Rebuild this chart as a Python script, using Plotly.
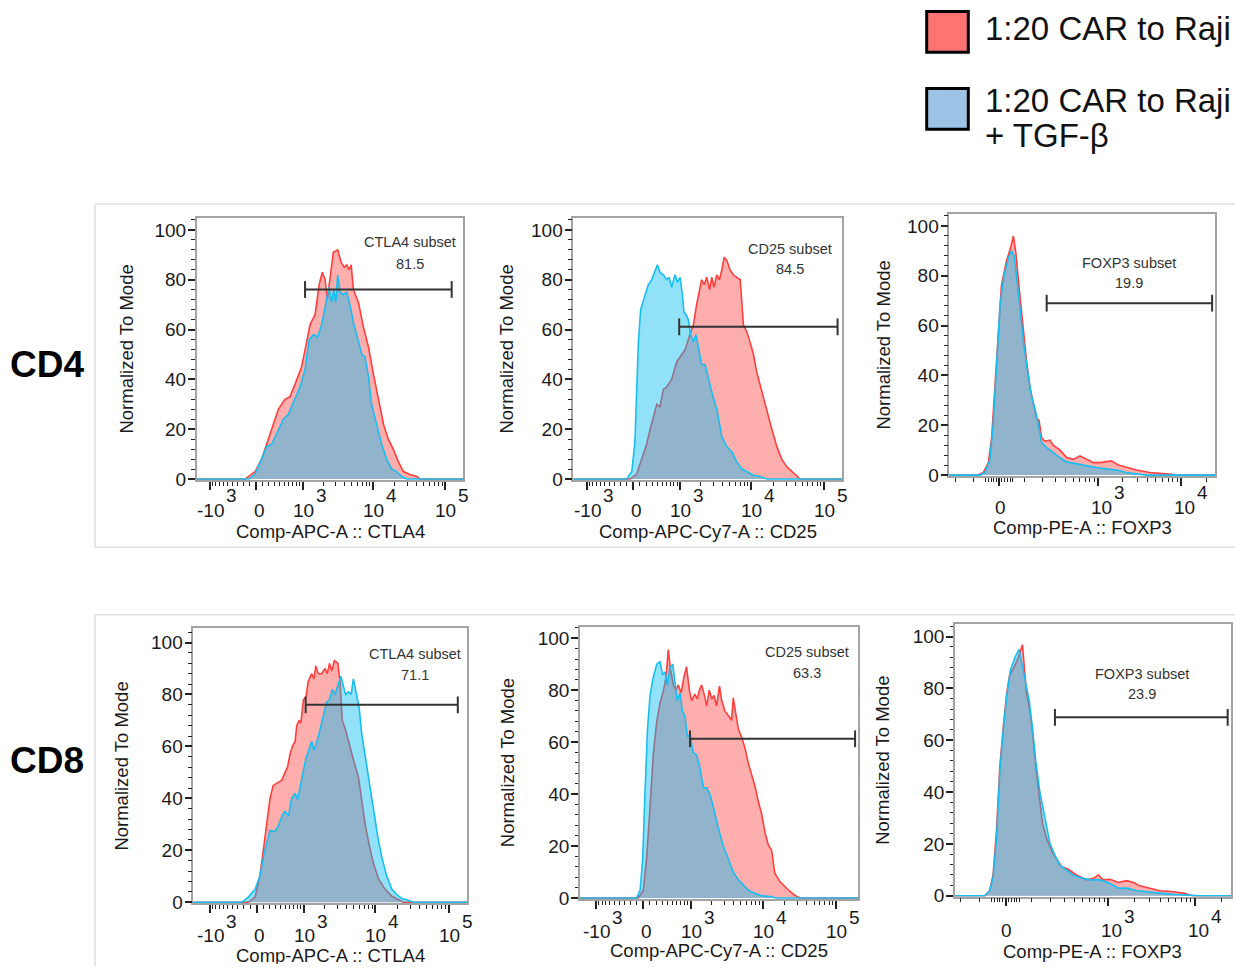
import numpy as np
import plotly.graph_objects as go

W, H = 1235, 976
FONT = "Liberation Sans, Arial, Helvetica, sans-serif"

# ---------------------------------------------------------------------------
# Histogram data.  x = arcsinh-scaled fluorescence (asinh(value / cofactor)),
# y = cell count normalized to mode (%).
# "car"  = 1:20 CAR to Raji,  "tgfb" = 1:20 CAR to Raji + TGF-beta
# ---------------------------------------------------------------------------

# CD4 / CTLA4
cd4_ctla4_car_x = [-2.0, -0.35, -0.03, 0.18, 0.39, 0.50, 0.71, 0.92, 1.08, 1.24, 1.45, 1.61, 1.72, 1.88,
                   2.01, 2.11, 2.20, 2.27, 2.36, 2.46, 2.60, 2.71, 2.81, 2.89, 2.96, 3.03, 3.10, 3.26,
                   3.42, 3.58, 3.74, 3.90, 4.06, 4.21, 4.37, 4.53, 4.69, 4.90, 5.12, 5.22, 6.8]
cd4_ctla4_car_y = [0, 0, 3, 8, 16, 20, 28, 32, 33, 38, 45, 55, 62, 66,
                   78, 83, 80, 72, 81, 91, 92, 87, 85, 86, 84, 86, 76, 71,
                   61, 53, 42, 32, 22, 16, 12, 7, 3, 1.8, 1, 0, 0]
cd4_ctla4_tgfb_x = [-2.0, -0.24, -0.03, 0.18, 0.34, 0.50, 0.66, 0.87, 1.03, 1.24, 1.40, 1.56, 1.69, 1.83,
                    1.96, 2.09, 2.20, 2.32, 2.41, 2.47, 2.54, 2.60, 2.68, 2.78, 2.89, 2.99, 3.10, 3.26,
                    3.37, 3.47, 3.58, 3.68, 3.84, 4.00, 4.16, 4.32, 4.48, 4.64, 4.80, 6.8]
cd4_ctla4_tgfb_y = [0, 0, 2, 8, 13, 14, 18.5, 24, 26, 32, 37, 44, 56, 58,
                    57, 62, 69, 77, 71, 76, 71, 82, 75, 74, 75, 70, 63, 55,
                    50, 49, 41, 30, 22, 14, 8, 4, 3, 1, 0, 0]

# CD4 / CD25
cd4_cd25_car_x = [-2.0, -0.105, 0.105, 0.26, 0.42, 0.53, 0.63, 0.74, 0.84, 0.95, 1.05, 1.21, 1.37, 1.53,
                  1.64, 1.79, 1.90, 2.00, 2.09, 2.16, 2.24, 2.32, 2.41, 2.48, 2.55, 2.64, 2.72, 2.80,
                  2.87, 2.95, 3.06, 3.16, 3.27, 3.38, 3.48, 3.59, 3.69, 3.80, 3.90, 4.06, 4.22, 4.38,
                  4.54, 4.69, 4.85, 5.01, 5.17, 5.27, 6.8]
cd4_cd25_car_y = [0, 0, 2, 8, 14, 20, 25, 30, 29, 36, 37, 40, 47, 50,
                  52, 58, 62, 70, 76, 80, 78, 81, 76, 81, 77, 82, 80, 84,
                  89, 88, 84, 82, 81, 80, 62, 59, 55, 50, 43, 35, 28, 20,
                  13, 8, 5, 3, 1, 0, 0]
cd4_cd25_tgfb_x = [-2.0, -0.21, -0.05, 0.05, 0.105, 0.16, 0.23, 0.34, 0.47, 0.58, 0.69, 0.76, 0.84, 0.95,
                   1.05, 1.13, 1.21, 1.32, 1.39, 1.48, 1.55, 1.60, 1.67, 1.74, 1.81, 1.90, 1.98, 2.06,
                   2.16, 2.27, 2.34, 2.48, 2.64, 2.80, 2.95, 3.11, 3.27, 3.43, 3.59, 3.80, 4.01, 4.22, 6.8]
cd4_cd25_tgfb_y = [0, 0, 3, 15, 36, 55, 68, 73, 78, 80, 84, 86, 83, 82,
                   80, 81, 77, 82, 79, 81, 74, 67, 66, 64, 58, 55, 58, 52,
                   46, 46, 42, 35, 28, 17, 13, 11, 7, 4, 3, 1.5, 1, 0, 0]

# CD4 / FOXP3
cd4_foxp3_car_x = [-1.5, -0.58, -0.44, -0.30, -0.21, -0.12, -0.03, 0.06, 0.20, 0.31, 0.39, 0.46, 0.55,
                   0.64, 0.76, 0.85, 0.96, 1.03, 1.10, 1.17, 1.26, 1.40, 1.49, 1.68, 1.86, 2.04, 2.23,
                   2.37, 2.60, 2.78, 2.96, 3.10, 3.29, 3.52, 3.79, 4.16, 4.44, 4.76, 4.85, 6.1]
cd4_foxp3_car_y = [0, 0, 1, 5, 15, 35, 58, 76, 86, 91, 96, 89, 75,
                   61, 45, 35, 28, 23, 22, 15, 13.6, 14, 12, 10, 7, 6.3, 7.7,
                   6.6, 5, 5, 5.3, 5.7, 4, 3, 2, 1, 0.8, 0.3, 0, 0]
cd4_foxp3_tgfb_x = [-1.5, -0.53, -0.40, -0.26, -0.17, -0.07, 0.02, 0.13, 0.25, 0.34, 0.41, 0.50, 0.59,
                    0.68, 0.78, 0.89, 1.03, 1.17, 1.31, 1.49, 1.68, 1.86, 2.14, 2.41, 2.69, 2.96, 3.24,
                    3.52, 3.79, 4.07, 6.1]
cd4_foxp3_tgfb_y = [0, 0, 1, 6, 20, 45, 68, 80, 87, 90, 88, 77, 64,
                    52, 42, 32, 24, 13, 11, 9, 7, 5.3, 4.5, 4, 3, 2.5, 2,
                    1, 0.5, 0, 0]

# CD8 / CTLA4
cd8_ctla4_car_x = [-2.1, -0.26, -0.05, 0.10, 0.21, 0.31, 0.42, 0.52, 0.66, 0.79, 0.89, 0.97, 1.05, 1.12,
                   1.21, 1.26, 1.33, 1.39, 1.47, 1.55, 1.62, 1.73, 1.80, 1.86, 1.94, 2.04, 2.15, 2.22,
                   2.29, 2.36, 2.44, 2.55, 2.62, 2.69, 2.78, 2.88, 3.04, 3.20, 3.30, 3.41, 3.53, 3.67,
                   3.83, 4.04, 4.25, 4.45, 4.61, 6.8]
cd8_ctla4_car_y = [0, 0, 2, 10, 20, 30, 40, 45, 46, 47, 50, 52, 57, 60,
                   62, 68, 70, 69, 78, 79, 85, 88, 86, 91, 88, 88, 90, 88,
                   92, 89, 93, 92, 85, 70, 67, 62, 55, 48, 40, 30, 22.5, 15,
                   9, 5, 2.3, 1, 0, 0]
cd8_ctla4_tgfb_x = [-2.1, -0.47, -0.26, -0.05, 0.10, 0.26, 0.42, 0.58, 0.70, 0.81, 0.89, 1.00, 1.10, 1.21,
                    1.29, 1.42, 1.54, 1.65, 1.73, 1.80, 1.92, 2.02, 2.11, 2.20, 2.29, 2.38, 2.46, 2.57,
                    2.65, 2.73, 2.80, 2.88, 2.97, 3.04, 3.11, 3.22, 3.30, 3.43, 3.56, 3.67, 3.81, 3.93,
                    4.09, 4.25, 4.40, 4.56, 4.72, 4.93, 6.8]
cd8_ctla4_tgfb_y = [0, 0, 2, 5, 10, 20, 27.6, 27.3, 30, 33.7, 35, 33.3, 40, 42,
                    39.6, 48, 55, 59, 62, 58.5, 63, 68, 72, 77, 78, 82, 80, 84,
                    87, 83, 80, 81, 80, 86, 82, 75, 65, 55, 45, 35, 25, 17.5,
                    10, 5, 3, 1.5, 1, 0, 0]

# CD8 / CD25
cd8_cd25_car_x = [-2.1, -0.16, 0.00, 0.10, 0.21, 0.31, 0.42, 0.52, 0.63, 0.71, 0.78, 0.85, 0.94, 1.02,
                  1.09, 1.18, 1.27, 1.35, 1.44, 1.51, 1.61, 1.69, 1.75, 1.82, 1.90, 1.98, 2.06, 2.14,
                  2.21, 2.29, 2.38, 2.45, 2.55, 2.66, 2.76, 2.81, 2.90, 2.97, 3.07, 3.18, 3.28, 3.39,
                  3.49, 3.59, 3.70, 3.80, 3.91, 4.01, 4.11, 4.27, 4.43, 4.58, 4.74, 4.90, 6.9]
cd8_cd25_car_y = [0, 0, 3, 15, 35, 55, 68, 75, 80, 85, 95.6, 88, 82, 80,
                  82, 79, 85, 89, 80, 76, 78.5, 76.6, 80, 82, 78.5, 74, 80, 76.6,
                  78, 74, 81.6, 76, 72, 70, 68.4, 77, 70, 65, 62, 57.6, 52, 47.5,
                  43, 37.3, 32.3, 25.3, 20.3, 18.4, 9.5, 6.3, 4.2, 2.5, 1, 0, 0]
cd8_cd25_tgfb_x = [-2.1, -0.21, -0.10, -0.02, 0.05, 0.13, 0.21, 0.31, 0.42, 0.52, 0.60, 0.68, 0.75, 0.83,
                   0.92, 0.99, 1.06, 1.15, 1.22, 1.30, 1.38, 1.46, 1.56, 1.67, 1.77, 1.88, 1.98, 2.08,
                   2.19, 2.34, 2.50, 2.66, 2.81, 2.97, 3.13, 3.28, 3.44, 3.65, 3.96, 4.17, 6.9]
cd8_cd25_tgfb_y = [0, 0, 3, 15, 40, 65, 78, 85, 90, 91, 86, 87, 82, 88.6,
                   90, 84, 76, 79, 72, 70, 62, 63, 56, 55, 50, 42.4, 42.4, 40,
                   35, 27, 20, 15, 10, 7, 5, 3, 2, 1, 0.5, 0, 0]

# CD8 / FOXP3
cd8_foxp3_car_x = [-1.5, -0.55, -0.42, -0.33, -0.24, -0.15, -0.06, 0.03, 0.11, 0.22, 0.34, 0.45, 0.51,
                   0.56, 0.65, 0.72, 0.80, 0.89, 0.98, 1.09, 1.22, 1.35, 1.49, 1.66, 1.88, 2.15, 2.33,
                   2.46, 2.59, 2.77, 2.99, 3.21, 3.39, 3.56, 3.83, 4.09, 4.45, 4.71, 4.89, 4.98, 6.1]
cd8_foxp3_car_y = [0, 0, 2, 8, 25, 50, 65, 78, 85, 88, 92, 96.8, 86,
                   78, 71, 62.6, 50, 40, 28, 22, 17.5, 14.3, 11.2, 10.2, 8, 6.1, 6.7,
                   8, 6.1, 6.3, 5.1, 5.8, 5.1, 3.8, 2.9, 1.9, 1.5, 1, 0.3, 0, 0]
cd8_foxp3_tgfb_x = [-1.5, -0.55, -0.42, -0.33, -0.24, -0.15, -0.06, 0.03, 0.13, 0.25, 0.36, 0.45, 0.54,
                    0.63, 0.72, 0.80, 0.91, 1.04, 1.18, 1.31, 1.44, 1.62, 1.79, 1.97, 2.24, 2.50, 2.72,
                    2.99, 3.21, 3.47, 3.74, 4.09, 4.45, 4.80, 5.15, 6.1]
cd8_foxp3_tgfb_y = [0, 0, 2, 7, 22, 48, 64, 77, 87, 92, 95, 88, 82,
                    75, 64, 52, 40, 30, 20, 15.6, 11.8, 9.9, 8, 7, 6.1, 6.1, 5.1,
                    2.9, 2.9, 2, 1.5, 1, 0.5, 0.3, 0, 0]

# Histogram gates (arcsinh-scaled bounds, drawn at a fixed height) and subset frequencies
gate_names = ["CTLA4 subset", "CD25 subset", "FOXP3 subset", "CTLA4 subset", "CD25 subset", "FOXP3 subset"]
gate_lo = [1.56, 1.45, 1.31, 1.54, 1.46, 1.31]
gate_hi = [6.23, 6.46, 5.88, 6.32, 6.62, 5.89]
gate_level = [76.1, 61.1, 69.0, 76.0, 61.3, 68.8]
subset_pct = ["81.5", "84.5", "19.9", "71.1", "63.3", "23.9"]

channel_titles = ["Comp-APC-A :: CTLA4", "Comp-APC-Cy7-A :: CD25", "Comp-PE-A :: FOXP3"]
row_labels = ["CD4", "CD8"]
legend_labels = ["1:20 CAR to Raji", "1:20 CAR to Raji", "+ TGF-\u03b2"]

# Decade ticks per detector scale: (value, mantissa text, exponent text)
apc_major = [(-1e3, "-10", "3"), (0, "0", ""), (1e3, "10", "3"), (1e4, "10", "4"), (1e5, "10", "5")]
pe_major = [(0, "0", ""), (1e3, "10", "3"), (1e4, "10", "4")]

# Arcsinh cofactors for the two detector scales
COFACTOR = {"apc": 480.0, "pe": 132.0}

RED_LINE, RED_FILL = "rgb(255,62,62)", "rgba(255,75,75,0.45)"
BLUE_LINE, BLUE_FILL = "rgb(25,190,240)", "rgba(0,185,240,0.43)"
FRAME = "#a3a3a3"
TICK = "#222222"
TXT = "#1a1a1a"
GROUP_LINE = dict(color="#dedede", width=1.5)

# panel layout: frame box in pixels (left, top, right, bottom), x range, y top,
# subset label position, x-title centre (px), y-title offset and tick-label offsets
panels = [
    dict(data=(cd4_ctla4_car_x, cd4_ctla4_car_y, cd4_ctla4_tgfb_x, cd4_ctla4_tgfb_y), scale="apc",
         box=(196.7, 220.0, 463.3, 485.0), xr=(-1.89, 6.60), ytop=104.9,
         lab=(4.90, 95.3, 86.4), xt=536.7, yt=70, tl=(30, 15)),
    dict(data=(cd4_cd25_car_x, cd4_cd25_car_y, cd4_cd25_tgfb_x, cd4_cd25_tgfb_y), scale="apc",
         box=(573.3, 220.0, 841.7, 485.0), xr=(-1.90, 6.59), ytop=104.9,
         lab=(4.96, 92.3, 84.4), xt=536.7, yt=66.6, tl=(30, 15)),
    dict(data=(cd4_foxp3_car_x, cd4_foxp3_car_y, cd4_foxp3_tgfb_x, cd4_foxp3_tgfb_y), scale="pe",
         box=(949.3, 216.7, 1215.0, 481.0), xr=(-1.38, 5.96), ytop=104.6,
         lab=(3.59, 85.2, 77.2), xt=533.3, yt=66, tl=(31, 16)),
    dict(data=(cd8_ctla4_car_x, cd8_ctla4_car_y, cd8_ctla4_tgfb_x, cd8_ctla4_tgfb_y), scale="apc",
         box=(193.3, 635.0, 466.7, 912.7), xr=(-1.99, 6.60), ytop=105.4,
         lab=(4.98, 95.4, 87.6), xt=968.3, yt=71.6, tl=(32, 18)),
    dict(data=(cd8_cd25_car_x, cd8_cd25_car_y, cd8_cd25_tgfb_x, cd8_cd25_tgfb_y), scale="apc",
         box=(580.0, 633.3, 858.3, 908.3), xr=(-1.98, 6.72), ytop=104.4,
         lab=(5.11, 94.6, 86.7), xt=960.0, yt=71.7, tl=(33, 19)),
    dict(data=(cd8_foxp3_car_x, cd8_foxp3_car_y, cd8_foxp3_tgfb_x, cd8_foxp3_tgfb_y), scale="pe",
         box=(955.0, 630.0, 1230.7, 906.0), xr=(-1.34, 5.97), ytop=105.0,
         lab=(3.61, 85.4, 77.8), xt=961.7, yt=73.3, tl=(34, 20)),
]


def scale_ticks(scale, xr):
    c = COFACTOR[scale]
    if scale == "apc":
        major = [v for v, _, _ in apc_major]
        minor = [s * m * 100 for s in (-1, 1) for m in range(1, 10)]
        minor += [m * 1e3 for m in range(2, 10)] + [m * 1e4 for m in range(2, 10)]
        minor += [m * 1e5 for m in range(2, 10)]
    else:
        major = [v for v, _, _ in pe_major]
        minor = [s * m * 10 for s in (-1, 1) for m in (1, 2, 3, 4, 5, 10)]
        minor += [-m * 100 for m in range(2, 10)] + [m * 100 for m in range(2, 10)]
        minor += [m * 1e3 for m in range(2, 10)] + [m * 1e4 for m in range(2, 10)]
    tv = list(np.arcsinh(np.array(major) / c))
    mv = [v for v in np.arcsinh(np.array(minor) / c) if xr[0] < v < xr[1]]
    return tv, mv


fig = go.Figure()
layout = dict(width=W, height=H, autosize=False, margin=dict(l=0, r=0, t=0, b=0),
              paper_bgcolor="white", plot_bgcolor="white", showlegend=False,
              font=dict(family=FONT, color=TXT))
annotations, shapes = [], []

for i, p in enumerate(panels):
    n = i + 1
    sfx = "" if n == 1 else str(n)
    xa, ya = "x" + sfx, "y" + sfx
    left, top, right, bottom = p["box"]
    tv, mv = scale_ticks(p["scale"], p["xr"])

    layout["xaxis" + sfx] = dict(
        domain=[left / W, right / W], range=list(p["xr"]), anchor=ya,
        tickmode="array", tickvals=tv, showticklabels=False,
        ticks="outside", ticklen=8, tickwidth=1.6, tickcolor=TICK,
        minor=dict(tickmode="array", tickvals=mv, ticks="outside", ticklen=4, tickwidth=1,
                   tickcolor=TICK),
        showline=True, mirror=True, linecolor=FRAME, linewidth=1.5,
        showgrid=False, zeroline=False, layer="below traces")
    layout["yaxis" + sfx] = dict(
        domain=[1 - bottom / H, 1 - top / H], range=[-0.4, p["ytop"]], anchor=xa,
        tickmode="linear", tick0=0, dtick=20, ticks="outside", ticklen=7, tickwidth=1.6,
        tickcolor=TICK, tickfont=dict(size=19, color=TXT), ticklabelstandoff=-2,
        minor=dict(tickmode="linear", tick0=0, dtick=4, ticks="outside", ticklen=3.5,
                   tickwidth=1, tickcolor=TICK),
        showline=True, mirror=True, linecolor=FRAME, linewidth=1.5,
        showgrid=False, zeroline=False, layer="below traces")

    # decade tick labels: mantissa plus a raised, full-size exponent
    majors = apc_major if p["scale"] == "apc" else pe_major
    end_off = 13 if p["scale"] == "apc" else 16
    base_dy, exp_dy = p["tl"]
    for u, (v, mant, ex) in zip(tv, majors):
        if ex:
            off = end_off + (3 if mant.startswith("-") else 0)
            annotations.append(dict(x=u, y=0, xref=xa, yref=ya + " domain", text=mant,
                                    showarrow=False, xanchor="right", yanchor="middle",
                                    xshift=off, yshift=-base_dy, font=dict(size=19, color=TXT)))
            annotations.append(dict(x=u, y=0, xref=xa, yref=ya + " domain", text=ex,
                                    showarrow=False, xanchor="left", yanchor="middle",
                                    xshift=off - 2, yshift=-exp_dy, font=dict(size=19, color=TXT)))
        else:
            annotations.append(dict(x=u, y=0, xref=xa, yref=ya + " domain", text=mant,
                                    showarrow=False, xanchor="center", yanchor="middle",
                                    xshift=3 if p["scale"] == "apc" else 1,
                                    yshift=-base_dy, font=dict(size=19, color=TXT)))

    rx, ry, bx, by = p["data"]
    fig.add_trace(go.Scatter(x=rx, y=ry, xaxis=xa, yaxis=ya, mode="lines", fill="tozeroy",
                             fillcolor=RED_FILL, line=dict(color=RED_LINE, width=1.6),
                             hoverinfo="skip"))
    fig.add_trace(go.Scatter(x=bx, y=by, xaxis=xa, yaxis=ya, mode="lines", fill="tozeroy",
                             fillcolor=BLUE_FILL, line=dict(color=BLUE_LINE, width=1.6),
                             hoverinfo="skip"))
    # gate bar with end caps
    fig.add_trace(go.Scatter(x=[gate_lo[i], gate_hi[i]], y=[gate_level[i], gate_level[i]],
                             xaxis=xa, yaxis=ya, mode="lines+markers",
                             line=dict(color="#333333", width=2),
                             marker=dict(symbol="line-ns", size=12,
                                         line=dict(width=2, color="#333333")),
                             hoverinfo="skip", cliponaxis=False))

    lx, ly1, ly2 = p["lab"]
    annotations.append(dict(x=lx, y=ly1, xref=xa, yref=ya, text=gate_names[i], showarrow=False,
                            font=dict(size=14.5, color="#333333"), xanchor="center", yanchor="middle"))
    annotations.append(dict(x=lx, y=ly2, xref=xa, yref=ya, text=subset_pct[i], showarrow=False,
                            font=dict(size=14.5, color="#333333"), xanchor="center", yanchor="middle"))

    # x-axis title; near the page foot the text box is cut at the page edge
    xt = p["xt"]
    title = dict(x=0.5, xref=xa + " domain", text=channel_titles[i % 3], showarrow=False,
                 xanchor="center", font=dict(size=18.5, color=TXT))
    if xt + 11 > H:
        box_top = xt - 11
        title.update(y=0, yref="paper", yanchor="bottom", height=H - box_top, valign="top")
    else:
        title.update(y=1 - xt / H, yref="paper", yanchor="middle")
    annotations.append(title)
    annotations.append(dict(x=0, y=0.5, xref=xa + " domain", yref=ya + " domain",
                            text="Normalized To Mode", showarrow=False, xshift=-p["yt"],
                            textangle=-90, xanchor="center", yanchor="middle",
                            font=dict(size=18.5, color=TXT)))

# row labels
for lab, yc in zip(row_labels, (368, 768)):
    annotations.append(dict(x=47 / W, y=1 - yc / H, xref="paper", yref="paper",
                            text="<b>" + lab + "</b>", showarrow=False, xanchor="center",
                            yanchor="middle", font=dict(size=37, color="#000000")))


def hline(y_px, x0_px=95, x1_px=W):
    return dict(type="line", xref="paper", yref="paper", x0=x0_px / W, x1=x1_px / W,
                y0=1 - y_px / H, y1=1 - y_px / H, line=GROUP_LINE, layer="below")


def vline(x_px, y0_px, y1_px):
    return dict(type="line", xref="paper", yref="paper", x0=x_px / W, x1=x_px / W,
                y0=1 - y0_px / H, y1=1 - y1_px / H, line=GROUP_LINE, layer="below")


# panel group outlines (kept inside the page)
shapes += [hline(206), hline(553), vline(95, 206, 553), hline(621), vline(95, 621, H)]

# legend swatches and labels
for (y0, y1), col in zip(((11.7, 52.7), (89.3, 130.7)), ("#ff7373", "#9dc3e6")):
    shapes.append(dict(type="rect", xref="paper", yref="paper", x0=926.7 / W, x1=968.3 / W,
                       y0=1 - y1 / H, y1=1 - y0 / H, fillcolor=col, line=dict(color="#000000", width=3)))
for txt, yc in zip(legend_labels, (28.3, 101.7, 136.7)):
    annotations.append(dict(x=983 / W, y=1 - yc / H, xref="paper", yref="paper", text=txt,
                            showarrow=False, xanchor="left", yanchor="middle",
                            font=dict(size=33, color="#111111")))

layout["annotations"] = annotations
layout["shapes"] = shapes
fig.update_layout(**layout)
# the figure fills the page exactly: no body margin, no scrollbars
fig.write_html("out.html",
               post_script="document.body.style.margin='0';"
                           "document.documentElement.style.overflow='hidden';"
                           "document.body.style.overflow='hidden';")
